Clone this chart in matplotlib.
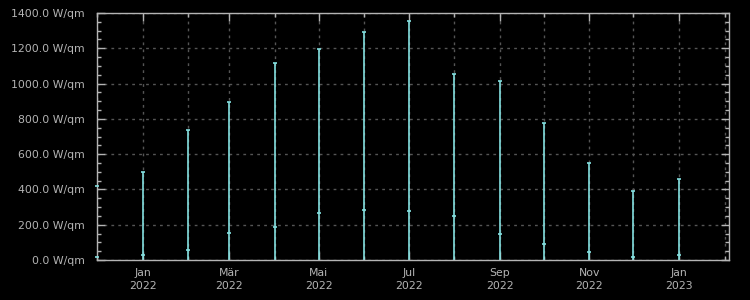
import pandas as pd
import matplotlib
matplotlib.use('Agg')
import matplotlib.pyplot as plt
import matplotlib.dates as mdates
from matplotlib.ticker import MultipleLocator, FuncFormatter

# monthly solar radiation: maximum and average per month
months = pd.date_range('2021-12-01', '2023-01-01', freq='MS')
max_vals = [419, 499, 737, 893, 1115, 1194, 1294, 1353, 1053, 1017, 775, 548, 389, 457]
avg_vals = [15, 28, 57, 153, 187, 266, 283, 277, 249, 147, 91, 45, 19, 28]
month_names = {1: 'Jan', 3: 'Mär', 5: 'Mai', 7: 'Jul', 9: 'Sep', 11: 'Nov'}

fg = '#b4b4b4'
line_col = '#84e0e0'

fig = plt.figure(figsize=(7.5, 3.0), dpi=100, facecolor='black')
ax = fig.add_axes([97 / 750, 40 / 300, 632 / 750, 247 / 300], facecolor='black')

ax.vlines(months, 0, max_vals, color=line_col, lw=1.2, zorder=2)
ax.plot(months, max_vals, ls='none', marker='_', ms=3.5, mew=1.2, color=line_col,
        zorder=4, clip_on=False)
ax.plot(months, avg_vals, ls='none', marker='_', ms=3.5, mew=1.2, color=line_col,
        zorder=4, clip_on=False)

ax.set_xlim(pd.Timestamp('2021-12-01'), pd.Timestamp('2023-02-04'))
ax.set_ylim(0, 1400)

ax.xaxis.set_major_locator(mdates.MonthLocator(bymonth=[1, 3, 5, 7, 9, 11]))
ax.xaxis.set_minor_locator(mdates.MonthLocator())
ax.xaxis.set_major_formatter(FuncFormatter(
    lambda x, p: '%s\n%d' % (month_names[mdates.num2date(x).month], mdates.num2date(x).year)))
ax.yaxis.set_major_locator(MultipleLocator(200))
ax.yaxis.set_minor_locator(MultipleLocator(50))
ax.yaxis.set_major_formatter(FuncFormatter(lambda v, p: '%.1f W/qm' % v))

ax.grid(True, which='major', axis='y', color='#555555', ls=(0, (2, 3)), lw=1)
ax.grid(True, which='both', axis='x', color='#555555', ls=(0, (2, 3)), lw=1)
ax.set_axisbelow(True)

ax.tick_params(which='both', direction='in', colors=fg, labelcolor=fg, labelsize=7.8,
               top=True, right=True)
ax.tick_params(which='major', length=6, width=1)
ax.tick_params(which='minor', length=3, width=1)
ax.tick_params(axis='y', pad=9)
ax.tick_params(axis='x', pad=6)
for lab in ax.get_xticklabels():
    lab.set_linespacing(1.3)
for s in ax.spines.values():
    s.set_color(fg)
    s.set_linewidth(1)

fig.savefig('out.png', dpi=100, facecolor='black')
